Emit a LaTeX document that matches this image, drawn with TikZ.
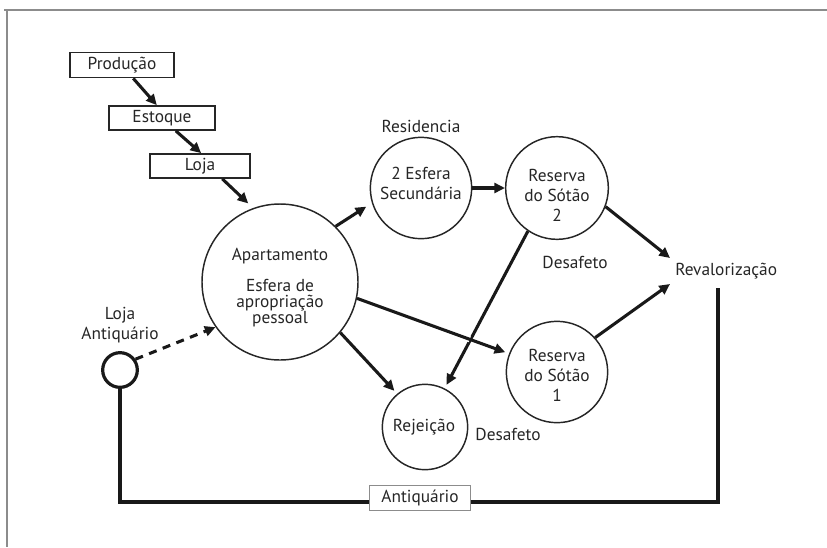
\documentclass[tikz,border=0pt]{standalone}
\usepackage{fontspec}
\setmainfont{PT Sans}
\usetikzlibrary{arrows.meta}
\begin{document}
\begin{tikzpicture}[x=0.75pt,y=-0.75pt,
  every node/.style={font=\fontsize{13}{15}\selectfont, text=black!85},
  box/.style={draw=black!85, line width=1.3pt, inner sep=0pt, fill=white},
  circ/.style={circle, draw=black!85, line width=1.1pt, inner sep=0pt, align=center},
  lbl/.style={inner sep=0pt, align=center},
  arr/.style={line width=2.3pt, draw=black!90, -{Triangle[length=8pt,width=7.5pt]}},
]
\useasboundingbox (0,0) rectangle (827,547);
\draw[black!45, line width=1.1pt] (4,10) -- (827,10);
\draw[black!45, line width=1.1pt] (7,10) -- (7,547);

% boxes
\node[box, minimum width=78pt, minimum height=18.75pt] (prod) at (122,65) {Produção};
\node[box, minimum width=80pt, minimum height=18pt] (est) at (162,118) {Estoque};
\node[box, minimum width=75pt, minimum height=18pt] (loja) at (200,166) {Loja};

% circles
\node[circ, minimum size=117pt] (apt) at (280,282) {};
\node[lbl] (aptt) at (280,256) {Apartamento};
\node[lbl, font=\fontsize{13}{12}\selectfont] (aptt2) at (280,303) {Esfera de\\apropriação\\pessoal};
\node[circ, minimum size=76pt] (sec) at (421,188) {};
\node[lbl, font=\fontsize{13}{15}\selectfont] (sect) at (421,183) {2 Esfera\\Secundária};
\node[circ, minimum size=77pt] (res2) at (557,188) {};
\node[lbl, font=\fontsize{13}{15}\selectfont] (res2t) at (557,195) {Reserva\\do Sótão\\2};
\node[circ, minimum size=76pt] (res1) at (557,372) {};
\node[lbl, font=\fontsize{13}{15}\selectfont] (res1t) at (557,375) {Reserva\\do Sótão\\1};
\node[circ, minimum size=64pt] (rej) at (425,427) {};
\node[lbl] (rejt) at (424,427) {Rejeição};
\node[circle, draw=black!90, line width=2.4pt, minimum size=26pt, inner sep=0pt] (la) at (120,370) {};

% labels
\node[lbl] (resid) at (421,126) {Residencia};
\node[lbl] (des1) at (575,262) {Desafeto};
\node[lbl] (des2) at (508,434) {Desafeto};
\node[lbl, anchor=west] (reval) at (675,271) {Revalorização};
\node[lbl, font=\fontsize{13}{15}\selectfont] (lat) at (120,325) {Loja\\Antiquário};

% coordinates
\coordinate (rvin1) at (670,258);
\coordinate (rvin2) at (670,284);
\coordinate (bl) at (120,502);
\coordinate (br) at (718,502);
\coordinate (rv) at (718,288);

% bottom return line
\draw[line width=2.4pt, black!90] (la.south) -- (bl) -- (br) -- (rv);
\node[draw=black!45, line width=0.8pt, fill=white, minimum width=76pt, minimum height=19pt, inner sep=0pt] (antbox) at (420,498) {Antiquário};

% arrows
\draw[arr] (prod.-50) -- (est.112);
\draw[arr] (est.-43) -- (loja.85);
\draw[arr, shorten >=5pt] (loja.-30) -- (apt.110);
\draw[arr, shorten >=5pt] (apt.45) -- (sec.197);
\draw[arr] (sec.0) -- (res2.180);
\draw[arr] (res2.-21) -- (rvin1);
\draw[arr] (res1.42) -- (rvin2);
\draw[arr, shorten >=3pt] (res2.236) -- (rej.63);
\draw[white, line width=4.5pt, shorten >=60pt, shorten <=90pt] (apt.-12) -- (res1.159);
\draw[arr, shorten >=3pt] (apt.-12) -- (res1.159);
\draw[arr, shorten >=3pt] (apt.-40) -- (rej.130);
\draw[arr, dash pattern=on 6pt off 5pt] (la.35) -- (apt.215);
\end{tikzpicture}
\end{document}
